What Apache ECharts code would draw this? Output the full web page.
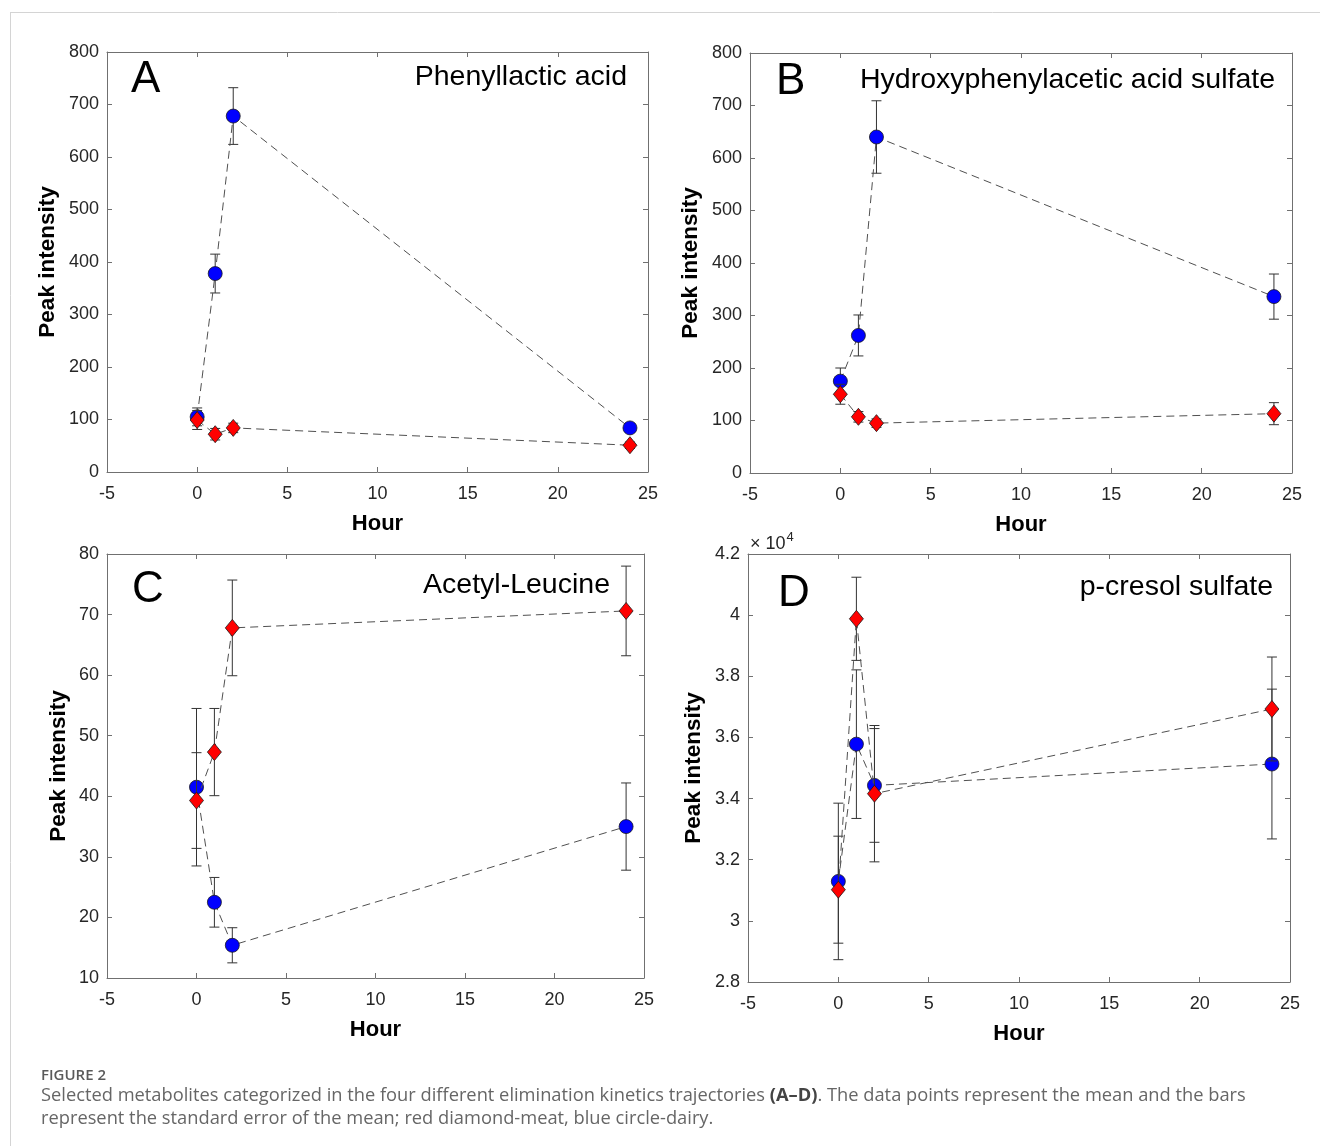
<!DOCTYPE html>
<html>
<head>
<meta charset="utf-8">
<title>Figure 2</title>
<script src="https://cdn.jsdelivr.net/npm/echarts@6/dist/echarts.min.js"></script>
<style>
html, body { margin: 0; padding: 0; background: #fff; }
#chart { width: 1320px; height: 1146px; }
</style>
</head>
<body>
<div id="chart"></div>
<script>
// sampling times (hours)
var hours = [0, 1, 2, 24];

// A - Phenyllactic acid
var phenylDairy = [105, 378, 678, 84];
var phenylDairyErr = [17, 37, 54, 6];
var phenylMeat = [99, 72, 84, 51];
var phenylMeatErr = [18, 11, 9, 6];

// B - Hydroxyphenylacetic acid sulfate
var hpasDairy = [175, 262, 640, 336];
var hpasDairyErr = [25, 39, 69, 43];
var hpasMeat = [150, 107, 95, 113];
var hpasMeatErr = [19, 10, 8, 21];

// C - Acetyl-Leucine
var aclDairy = [41.5, 22.5, 15.4, 35.0];
var aclDairyErr = [13.0, 4.1, 2.9, 7.2];
var aclMeat = [39.3, 47.3, 67.8, 70.6];
var aclMeatErr = [7.9, 7.2, 7.9, 7.4];

// D - p-cresol sulfate
var pcsDairy = [31290, 35780, 34430, 35130];
var pcsDairyErr = [2560, 2430, 1860, 2450];
var pcsMeat = [31020, 39880, 34160, 36930];
var pcsMeatErr = [1750, 1360, 2230, 1700];

var panels = [
	{ letter: 'A', name: 'Phenyllactic acid', dairy: phenylDairy, dairyErr: phenylDairyErr, meat: phenylMeat, meatErr: phenylMeatErr,
	  grid: { left: 107, top: 52, width: 541, height: 420 }, min: 0, max: 800, step: 100, gap: 48,
	  letterAt: [131, 80], nameAt: [627, 77] },
	{ letter: 'B', name: 'Hydroxyphenylacetic acid sulfate', dairy: hpasDairy, dairyErr: hpasDairyErr, meat: hpasMeat, meatErr: hpasMeatErr,
	  grid: { left: 750, top: 53, width: 542, height: 420 }, min: 0, max: 800, step: 100, gap: 48,
	  letterAt: [776, 82], nameAt: [1275, 80] },
	{ letter: 'C', name: 'Acetyl-Leucine', dairy: aclDairy, dairyErr: aclDairyErr, meat: aclMeat, meatErr: aclMeatErr,
	  grid: { left: 107, top: 554, width: 537, height: 424 }, min: 10, max: 80, step: 10, gap: 37,
	  letterAt: [132, 590], nameAt: [610, 585] },
	{ letter: 'D', name: 'p-cresol sulfate', dairy: pcsDairy, dairyErr: pcsDairyErr, meat: pcsMeat, meatErr: pcsMeatErr,
	  grid: { left: 748, top: 554, width: 542, height: 428 }, min: 28000, max: 42000, step: 2000, gap: 43, sci: true,
	  letterAt: [778, 594], nameAt: [1273, 587] }
];

var axisColor = '#707070';
var textColor = '#262626';
var font = 'Liberation Sans, Arial, sans-serif';

function errorBar(params, api) {
	var x = api.value(0);
	var lo = api.coord([x, api.value(1)]);
	var hi = api.coord([x, api.value(2)]);
	var w = 5;
	var st = { stroke: '#333', lineWidth: 1 };
	return {
		type: 'group',
		children: [
			{ type: 'line', shape: { x1: lo[0], y1: lo[1], x2: hi[0], y2: hi[1] }, style: st },
			{ type: 'line', shape: { x1: lo[0] - w, y1: lo[1], x2: lo[0] + w, y2: lo[1] }, style: st },
			{ type: 'line', shape: { x1: hi[0] - w, y1: hi[1], x2: hi[0] + w, y2: hi[1] }, style: st }
		]
	};
}

function errData(vals, errs) {
	return hours.map(function(h, i) {
		return [h, vals[i] - errs[i], vals[i] + errs[i]];
	});
}

function lineData(vals) {
	return hours.map(function(h, i) {
		return [h, vals[i]];
	});
}

var grids = [], xAxes = [], yAxes = [], series = [], graphics = [];

panels.forEach(function(p, g) {
	grids.push(p.grid);
	var tickStyle = { show: true, inside: true, length: 5, lineStyle: { color: axisColor, width: 1 } };
	var lineStyle = { show: true, onZero: false, lineStyle: { color: axisColor, width: 1 } };
	// bottom x
	xAxes.push({
		type: 'value', gridIndex: g, min: -5, max: 25, interval: 5, position: 'bottom',
		axisLine: lineStyle, axisTick: tickStyle, splitLine: { show: false },
		axisLabel: { color: textColor, fontFamily: font, fontSize: 18, margin: 13 },
		name: 'Hour', nameLocation: 'middle', nameGap: 41,
		nameTextStyle: { color: '#000', fontFamily: font, fontSize: 22, fontWeight: 'bold' }
	});
	// top x (ticks only)
	xAxes.push({
		type: 'value', gridIndex: g, min: -5, max: 25, interval: 5, position: 'top',
		axisLine: lineStyle, axisTick: tickStyle, splitLine: { show: false }, axisLabel: { show: false }
	});
	// left y
	yAxes.push({
		type: 'value', gridIndex: g, min: p.min, max: p.max, interval: p.step, position: 'left',
		axisLine: lineStyle, axisTick: tickStyle, splitLine: { show: false },
		axisLabel: {
			color: textColor, fontFamily: font, fontSize: 18, margin: 8,
			formatter: p.sci ? function(v) { return String(+(v / 10000).toFixed(1)); } : '{value}'
		},
		name: 'Peak intensity', nameLocation: 'middle', nameGap: p.gap,
		nameTextStyle: { color: '#000', fontFamily: font, fontSize: 22.5, fontWeight: 'bold' }
	});
	// right y (ticks only)
	yAxes.push({
		type: 'value', gridIndex: g, min: p.min, max: p.max, interval: p.step, position: 'right',
		axisLine: lineStyle, axisTick: tickStyle, splitLine: { show: false }, axisLabel: { show: false }
	});

	var xi = g * 2, yi = g * 2;
	series.push({
		type: 'custom', xAxisIndex: xi, yAxisIndex: yi, renderItem: errorBar,
		encode: { x: 0, y: [1, 2] }, data: errData(p.dairy, p.dairyErr), z: 2, silent: true
	});
	series.push({
		type: 'line', xAxisIndex: xi, yAxisIndex: yi, data: lineData(p.dairy), z: 3,
		symbol: 'circle', symbolSize: 14,
		itemStyle: { color: '#0000ff', borderColor: '#1a1a1a', borderWidth: 0.8 },
		lineStyle: { color: '#505050', width: 1, type: [8, 5] }
	});
	series.push({
		type: 'custom', xAxisIndex: xi, yAxisIndex: yi, renderItem: errorBar,
		encode: { x: 0, y: [1, 2] }, data: errData(p.meat, p.meatErr), z: 4, silent: true
	});
	series.push({
		type: 'line', xAxisIndex: xi, yAxisIndex: yi, data: lineData(p.meat), z: 5,
		symbol: 'diamond', symbolSize: [14, 17],
		itemStyle: { color: '#ff0000', borderColor: '#1a1a1a', borderWidth: 0.8 },
		lineStyle: { color: '#505050', width: 1, type: [8, 5] }
	});

	// panel letter and compound name
	var gr = p.grid;
	graphics.push({
		type: 'text', x: p.letterAt[0], y: p.letterAt[1],
		style: { text: p.letter, font: '44px ' + font, fill: '#000', align: 'left', verticalAlign: 'middle' }
	});
	graphics.push({
		type: 'text', x: p.nameAt[0], y: p.nameAt[1],
		style: { text: p.name, font: '28.5px ' + font, fill: '#000', align: 'right', verticalAlign: 'middle' }
	});
	if (p.sci) {
		graphics.push({
			type: 'text', x: gr.left + 2, y: gr.top - 12,
			style: {
				text: '{a|× 10}{b|4}', verticalAlign: 'middle', align: 'left',
				rich: {
					a: { font: '18px ' + font, fill: textColor, verticalAlign: 'bottom' },
					b: { font: '13px ' + font, fill: textColor, verticalAlign: 'top', padding: [0, 0, 10, 1] }
				}
			}
		});
	}
});

// figure frame
graphics.push({ type: 'line', shape: { x1: 10, y1: 12.5, x2: 1320, y2: 12.5 }, style: { stroke: '#d4d4d4', lineWidth: 1 } });
graphics.push({ type: 'line', shape: { x1: 10.5, y1: 12, x2: 10.5, y2: 1146 }, style: { stroke: '#d4d4d4', lineWidth: 1 } });

// caption
var capFont = 'Open Sans, Noto Sans, sans-serif';
graphics.push({
	type: 'text', x: 41, y: 1076,
	style: { text: 'FIGURE 2', font: '600 15px ' + capFont, fill: '#5a5a5a', verticalAlign: 'middle' }
});
graphics.push({
	type: 'text', x: 41, y: 1096,
	style: {
		text: '{n|Selected metabolites categorized in the four different elimination kinetics trajectories }{b|(A\u2013D)}{n|. The data points represent the mean and the bars}',
		verticalAlign: 'middle',
		rich: {
			n: { font: '18.3px ' + capFont, fill: '#666' },
			b: { font: 'bold 18.3px ' + capFont, fill: '#444' }
		}
	}
});
graphics.push({
	type: 'text', x: 41, y: 1119,
	style: { text: 'represent the standard error of the mean; red diamond-meat, blue circle-dairy.', font: '18.3px ' + capFont, fill: '#666', verticalAlign: 'middle' }
});

var myChart = echarts.init(document.getElementById('chart'), null, { renderer: 'canvas' });
var option = {
	backgroundColor: '#fff',
	animation: false,
	grid: grids,
	xAxis: xAxes,
	yAxis: yAxes,
	series: series,
	graphic: graphics
};
myChart.setOption(option);
</script>
</body>
</html>
